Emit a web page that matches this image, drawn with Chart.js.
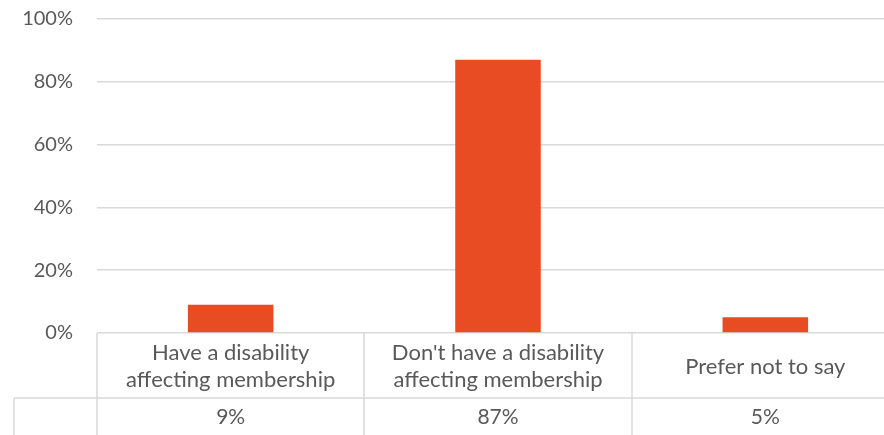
<!DOCTYPE html>
<html>
<head>
<meta charset="utf-8">
<script src="https://cdn.jsdelivr.net/npm/chart.js@4.4.1/dist/chart.umd.min.js"></script>
<style>
  html, body { margin: 0; padding: 0; background: #fff; overflow: hidden; }
  #wrap { width: 900px; height: 435px; position: relative; }
</style>
</head>
<body>
<div id="wrap"><canvas id="c"></canvas></div>
<script>
// Survey responses: share of members by disability status
const categories = [
  ["Have a disability", "affecting membership"],
  ["Don't have a disability", "affecting membership"],
  ["Prefer not to say"]
];
const shares = [9, 87, 5];
const yTicks = [0, 20, 40, 60, 80, 100];

const FONT = "Lato, 'Open Sans', sans-serif";
const TEXT = "#595959";
const LINE = "#d9d9d9";

// Draws the data table under the plot: category names and values per column
const dataTable = {
  id: 'dataTable',
  afterDraw(chart) {
    const { ctx, chartArea, scales } = chart;
    const x = scales.x;
    const top = chartArea.bottom;
    const rowSplit = top + 65;
    const bottom = chart.height;
    const colW = (chartArea.right - chartArea.left) / categories.length;
    ctx.save();
    ctx.strokeStyle = LINE;
    ctx.lineWidth = 1.5;
    // column separators
    for (let i = 0; i <= categories.length; i++) {
      const cx = Math.round(chartArea.left + i * colW);
      ctx.beginPath();
      ctx.moveTo(cx, top);
      ctx.lineTo(cx, bottom);
      ctx.stroke();
    }
    // row separator and left edge of the value row
    ctx.beginPath();
    ctx.moveTo(14, rowSplit);
    ctx.lineTo(chartArea.right, rowSplit);
    ctx.moveTo(14, rowSplit);
    ctx.lineTo(14, bottom);
    ctx.stroke();

    ctx.fillStyle = TEXT;
    ctx.textAlign = 'center';
    ctx.textBaseline = 'middle';
    const lineH = 27;
    categories.forEach((lines, i) => {
      const cx = x.getPixelForValue(i);
      const mid = (top + rowSplit) / 2 + 1;
      const start = mid - (lines.length - 1) * lineH / 2;
      ctx.font = "22px " + FONT;
      lines.forEach((t, j) => ctx.fillText(t, cx, start + j * lineH));
      ctx.font = "21px " + FONT;
      ctx.fillText(shares[i] + '%', cx, (rowSplit + bottom) / 2 + 1);
    });
    ctx.restore();
  }
};

new Chart(document.getElementById('c'), {
  type: 'bar',
  data: {
    labels: categories,
    datasets: [{
      data: shares,
      backgroundColor: '#E84C22',
      borderWidth: 0,
      barPercentage: 0.32,
      categoryPercentage: 1
    }]
  },
  options: {
    responsive: true,
    maintainAspectRatio: false,
    animation: false,
    events: [],
    layout: { padding: { top: 19, right: 1, bottom: 102, left: 0 } },
    plugins: { legend: { display: false }, tooltip: { enabled: false } },
    scales: {
      x: { display: false },
      y: {
        min: 0,
        max: 100,
        afterFit(scale) {
          scale.width = 97;
          scale.paddingTop = 0;
          scale.paddingBottom = 0;
        },
        afterBuildTicks(scale) { scale.ticks = yTicks.map(v => ({ value: v })); },
        border: { display: false },
        grid: { color: LINE, lineWidth: 1.5, drawTicks: false },
        ticks: {
          padding: 24,
          color: TEXT,
          font: { family: FONT, size: 20 },
          callback: v => v + '%'
        }
      }
    }
  },
  plugins: [dataTable]
});
</script>
</body>
</html>
